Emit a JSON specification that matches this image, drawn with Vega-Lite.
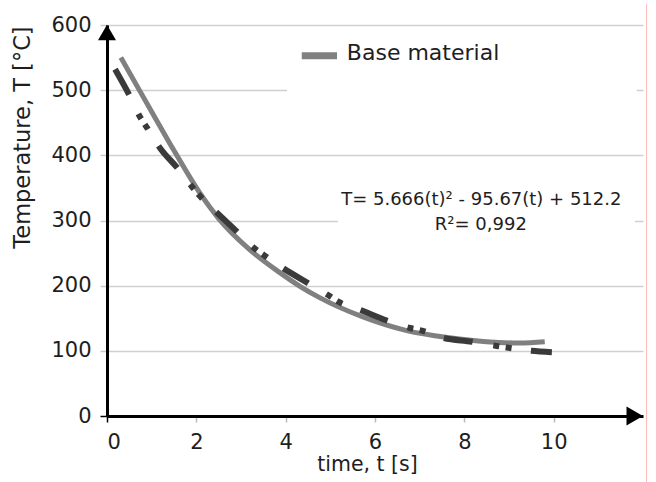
{
  "$schema": "https://vega.github.io/schema/vega-lite/v6.json",
  "width": 536,
  "height": 391,
  "autosize": {"type": "none"},
  "padding": {"left": 107, "top": 25, "right": 13, "bottom": 66},
  "background": "white",
  "config": {"view": {"stroke": null}, "font": "DejaVu Sans"},
  "datasets": {
    "gray": [
      {"t": 0.31, "T": 550}, {"t": 0.75, "T": 497}, {"t": 1.0, "T": 467}, {"t": 1.52, "T": 405},
      {"t": 2.08, "T": 342}, {"t": 2.5, "T": 303}, {"t": 3.2, "T": 255}, {"t": 3.87, "T": 220},
      {"t": 4.32, "T": 199}, {"t": 4.75, "T": 182}, {"t": 5.73, "T": 152}, {"t": 6.71, "T": 131},
      {"t": 7.67, "T": 120}, {"t": 8.5, "T": 114}, {"t": 9.24, "T": 112}, {"t": 9.8, "T": 114}
    ],
    "dark": [
      {"t": 0.18, "T": 532}, {"t": 0.51, "T": 491}, {"t": 0.74, "T": 459}, {"t": 0.89, "T": 443},
      {"t": 1.19, "T": 411}, {"t": 1.57, "T": 381}, {"t": 1.9, "T": 352}, {"t": 2.06, "T": 339},
      {"t": 2.46, "T": 312}, {"t": 2.91, "T": 283}, {"t": 3.29, "T": 258}, {"t": 3.53, "T": 246},
      {"t": 3.94, "T": 227}, {"t": 4.5, "T": 204}, {"t": 4.94, "T": 186}, {"t": 5.19, "T": 175},
      {"t": 5.66, "T": 163}, {"t": 6.29, "T": 146}, {"t": 6.78, "T": 135}, {"t": 7.05, "T": 131},
      {"t": 7.52, "T": 120}, {"t": 8.17, "T": 114}, {"t": 8.68, "T": 108}, {"t": 8.95, "T": 105},
      {"t": 9.5, "T": 100}, {"t": 9.96, "T": 98}
    ],
    "legendbox": [{"t": 4.03, "t2": 11.86, "T": 485, "T2": 592}],
    "eqbox": [{"t": 5.17, "t2": 11.82, "T": 268, "T2": 345}],
    "legline": [{"t": 4.36, "t2": 5.15, "T": 553}],
    "legtext": [{"t": 5.37, "T": 546, "label": "Base material"}],
    "eq1": [{"t": 8.38, "T": 324, "label": "T= 5.666(t)² - 95.67(t) + 512.2"}],
    "eq2": [{"t": 8.37, "T": 286, "label": "R²= 0,992"}],
    "arrowY": [{"t": 0, "T": 588.5}],
    "arrowX": [{"t": 11.815, "T": 0}],
    "redline": [{"t": 12.08, "T": -101, "T2": 632}]
  },
  "encoding": {
    "x": {
      "field": "t", "type": "quantitative",
      "scale": {"domain": [0, 12], "nice": false, "zero": false},
      "axis": {
        "values": [0, 2, 4, 6, 8, 10], "grid": false,
        "domainColor": "black", "domainWidth": 3,
        "tickColor": {"condition": {"test": "datum.value === 0", "value": "black"}, "value": "#b8b8b8"},
        "tickSize": 6, "tickWidth": 1.5,
        "labelFont": "DejaVu Sans", "labelFontSize": 21, "labelColor": "#1e1e1e", "labelPadding": 9,
        "title": "time, t [s]", "titleFont": "DejaVu Sans", "titleFontSize": 20.5, "titleFontWeight": "normal",
        "titleColor": "#1e1e1e", "titleX": 260, "titleY": 54, "titleBaseline": "alphabetic", "titleAlign": "center"
      }
    },
    "y": {
      "field": "T", "type": "quantitative",
      "scale": {"domain": [0, 600], "nice": false},
      "axis": {
        "values": [0, 100, 200, 300, 400, 500, 600], "grid": true,
        "gridColor": "#d0d0d0", "gridWidth": 1.5,
        "domainColor": "black", "domainWidth": 3,
        "tickColor": {"condition": {"test": "datum.value === 0", "value": "black"}, "value": "#c8c8c8"},
        "tickSize": 7, "tickWidth": 1.5,
        "labelFont": "DejaVu Sans", "labelFontSize": 21, "labelColor": "#1e1e1e", "labelPadding": 9,
        "title": "Temperature, T [°C]", "titleFont": "DejaVu Sans", "titleFontSize": 22.5, "titleFontWeight": "normal",
        "titleColor": "#1e1e1e", "titleX": -85, "titleY": 112, "titleBaseline": "middle", "titleAlign": "center", "titleAngle": -90
      }
    }
  },
  "layer": [
    {
      "data": {"name": "legendbox"},
      "mark": {"type": "rect", "fill": "white"},
      "encoding": {"x2": {"field": "t2"}, "y2": {"field": "T2"}}
    },
    {
      "data": {"name": "eqbox"},
      "mark": {"type": "rect", "fill": "white"},
      "encoding": {"x2": {"field": "t2"}, "y2": {"field": "T2"}}
    },
    {
      "data": {"name": "redline"},
      "mark": {"type": "rule", "stroke": "#ffb6b6", "strokeWidth": 1},
      "encoding": {"y2": {"field": "T2"}}
    },
    {
      "data": {"name": "gray"},
      "mark": {"type": "line", "interpolate": "monotone", "stroke": "#808080", "strokeWidth": 5, "strokeCap": "butt"},
      "encoding": {}
    },
    {
      "data": {"name": "dark"},
      "mark": {"type": "line", "interpolate": "monotone", "stroke": "#3a3a3a", "strokeWidth": 6, "strokeCap": "butt", "strokeDash": [29, 21, 6, 6.5, 6, 19.5]},
      "encoding": {}
    },
    {
      "data": {"name": "legline"},
      "mark": {"type": "rule", "stroke": "#808080", "strokeWidth": 7},
      "encoding": {"x2": {"field": "t2"}}
    },
    {
      "data": {"name": "legtext"},
      "mark": {"type": "text", "align": "left", "baseline": "alphabetic", "font": "DejaVu Sans", "fontSize": 22, "color": "#1e1e1e"},
      "encoding": {"text": {"field": "label"}}
    },
    {
      "data": {"name": "eq1"},
      "mark": {"type": "text", "align": "center", "baseline": "alphabetic", "font": "DejaVu Sans", "fontSize": 18, "color": "#1e1e1e"},
      "encoding": {"text": {"field": "label"}}
    },
    {
      "data": {"name": "eq2"},
      "mark": {"type": "text", "align": "center", "baseline": "alphabetic", "font": "DejaVu Sans", "fontSize": 18, "color": "#1e1e1e"},
      "encoding": {"text": {"field": "label"}}
    },
    {
      "data": {"name": "arrowY"},
      "mark": {"type": "point", "shape": "triangle-up", "size": 324, "filled": true, "color": "black", "opacity": 1},
      "encoding": {}
    },
    {
      "data": {"name": "arrowX"},
      "mark": {"type": "point", "shape": "triangle-right", "size": 361, "filled": true, "color": "black", "opacity": 1},
      "encoding": {}
    }
  ]
}
